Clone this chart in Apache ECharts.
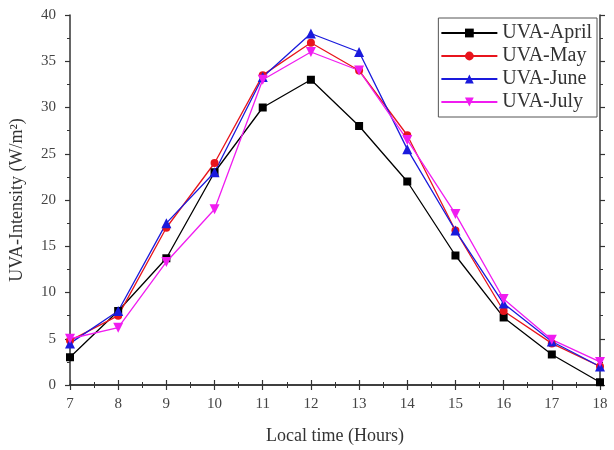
<!DOCTYPE html>
<html><head><meta charset="utf-8">
<script src="https://cdn.jsdelivr.net/npm/echarts@6/dist/echarts.min.js"></script>
<style>html,body{margin:0;padding:0;background:#fff}#c{width:614px;height:450px}</style>
</head><body><div id="c"></div>
<script>
const hours = [7,8,9,10,11,12,13,14,15,16,17,18];
const uvaApril = [3.0,8.0,13.7,23.0,30.0,33.0,28.0,22.0,14.0,7.3,3.3,0.3];
const uvaMay   = [4.8,7.5,17.0,24.0,33.5,37.0,34.0,27.0,16.7,8.0,4.5,2.0];
const uvaJune  = [4.5,8.0,17.5,23.0,33.3,38.0,36.0,25.5,16.7,8.8,4.7,2.0];
const uvaJuly  = [5.0,6.2,13.3,19.0,33.0,36.0,34.0,26.5,18.5,9.3,4.9,2.5];
const seriesNames = ['UVA-April','UVA-May','UVA-June','UVA-July'];
const xTicks = [7,18,1];
const yTicks = [0,40,5];

const font = 'Liberation Serif';
const colors = ['#000000','#e8141c','#1a1adc','#f01cf0'];
const symbols = ['rect','circle','triangle','path://M0,0 L10,0 L5,9 Z'];
const datas = [uvaApril,uvaMay,uvaJune,uvaJuly];

const axisCommon = {
  axisLine:{show:true,lineStyle:{color:'#333',width:1.5}},
  axisTick:{show:true,inside:false,length:5,lineStyle:{color:'#333',width:1.2}},
  minorTick:{show:true,splitNumber:2,length:3,lineStyle:{color:'#333'}},
  splitLine:{show:false}
};
const chart = echarts.init(document.getElementById('c'));
chart.setOption({
  animation:false,
  backgroundColor:'#fff',
  grid:{left:70,right:14,top:15,bottom:61},
  xAxis:[
    Object.assign({type:'value',min:xTicks[0],max:xTicks[1],interval:xTicks[2],position:'bottom',
      name:'Local time (Hours)',nameLocation:'middle',nameGap:42,
      nameTextStyle:{fontFamily:font,fontSize:18,color:'#333'},
      axisLabel:{fontFamily:font,fontSize:15,color:'#444',margin:12}},axisCommon),
    Object.assign({type:'value',min:xTicks[0],max:xTicks[1],interval:xTicks[2],position:'top',
      axisLabel:{show:false}},axisCommon)
  ],
  yAxis:[
    Object.assign({type:'value',min:yTicks[0],max:yTicks[1],interval:yTicks[2],position:'left',
      name:'UVA-Intensity (W/m²)',nameLocation:'middle',nameGap:44,
      nameTextStyle:{fontFamily:font,fontSize:18,color:'#333'},
      axisLabel:{fontFamily:font,fontSize:15,color:'#444',margin:14}},axisCommon),
    Object.assign({type:'value',min:yTicks[0],max:yTicks[1],interval:yTicks[2],position:'right',
      axisLabel:{show:false}},axisCommon)
  ],
  legend:{
    right:17,top:18,orient:'vertical',
    data:seriesNames,
    itemWidth:56,itemHeight:11,itemGap:3,
    padding:[5,5,5,2],
    borderColor:'#555',borderWidth:1,
    textStyle:{fontFamily:font,fontSize:20,color:'#333'}
  },
  series:seriesNames.map((n,i)=>({
    name:n,type:'line',
    data:hours.map((h,j)=>[h,datas[i][j]]),
    symbol:symbols[i],symbolSize:i===2?10:(i===3?10:8),
    itemStyle:{color:colors[i]},
    lineStyle:{color:colors[i],width:1.3}
  }))
});
</script></body></html>
